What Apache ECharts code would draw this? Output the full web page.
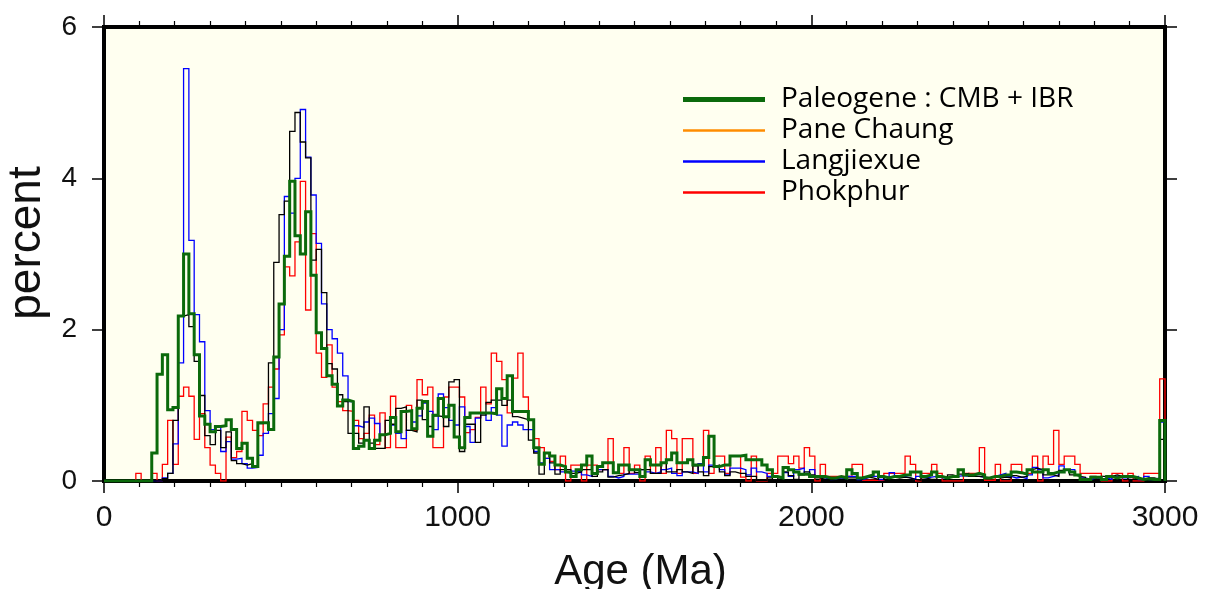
<!DOCTYPE html>
<html>
<head>
<meta charset="utf-8">
<title>Detrital zircon age spectra</title>
<script src="https://cdn.jsdelivr.net/npm/echarts@6/dist/echarts.min.js"></script>
<style>
  html, body { margin: 0; padding: 0; background: #ffffff; }
  #chart { width: 1211px; height: 589px; }
</style>
</head>
<body>
<div id="chart"></div>
<script>
// Histogram bins: 15 Ma wide, from 0 to 3000 Ma (200 bins). Values are percent per bin.
const BIN_WIDTH = 15;
const AGE_MIN = 0;
const AGE_MAX = 3000;
const AGE_TICKS = [0, 1000, 2000, 3000];
const PERCENT_TICKS = [0, 2, 4, 6];

const seriesNames = ['Paleogene : CMB + IBR', 'Pane Chaung', 'Langjiexue', 'Phokphur'];

const paleogene = [
  0, 0, 0, 0, 0, 0, 0, 0, 0, 0.37,
  1.41, 1.67, 0.94, 0.97, 2.18, 3.00, 2.21, 1.67, 0.86, 0.75,
  0.65, 0.72, 0.73, 0.81, 0.68, 0.43, 0.50, 0.30, 0.19, 0.77,
  0.77, 0.68, 1.64, 2.34, 2.97, 3.96, 3.24, 3.00, 3.56, 2.72,
  1.96, 1.75, 1.39, 1.28, 0.99, 1.07, 1.05, 0.43, 0.46, 0.54,
  0.43, 0.54, 0.61, 0.63, 0.84, 0.65, 0.92, 0.93, 0.69, 0.96,
  1.05, 0.59, 0.87, 1.09, 0.85, 1.00, 0.58, 0.44, 0.84, 0.90,
  0.90, 0.90, 0.90, 0.89, 1.22, 1.09, 1.39, 0.92, 0.92, 0.92,
  0.81, 0.44, 0.22, 0.37, 0.33, 0.21, 0.19, 0.12, 0.06, 0.15,
  0.21, 0.33, 0.10, 0.19, 0.24, 0.24, 0.11, 0.21, 0.21, 0.15,
  0.15, 0.06, 0.28, 0.21, 0.21, 0.24, 0.28, 0.37, 0.24, 0.24,
  0.28, 0.21, 0.21, 0.31, 0.59, 0.19, 0.21, 0.21, 0.33, 0.33,
  0.34, 0.28, 0.28, 0.28, 0.21, 0.15, 0.06, 0.04, 0.18, 0.15,
  0.12, 0.09, 0.09, 0.06, 0.06, 0.06, 0.04, 0.04, 0.06, 0.04,
  0.15, 0.10, 0.04, 0.06, 0.08, 0.12, 0.06, 0.04, 0.06, 0.06,
  0.08, 0.08, 0.12, 0.12, 0.06, 0.08, 0.12, 0.06, 0.04, 0.06,
  0.06, 0.15, 0.08, 0.08, 0.10, 0.08, 0.04, 0.06, 0.06, 0.08,
  0.08, 0.12, 0.11, 0.09, 0.15, 0.12, 0.12, 0.15, 0.10, 0.12,
  0.12, 0.15, 0.12, 0.08, 0.02, 0.02, 0.05, 0.05, 0.02, 0.06,
  0.04, 0.06, 0.06, 0.06, 0.04, 0.02, 0.03, 0.02, 0.02, 0.80
];

const paneChaung = [
  0, 0, 0, 0, 0, 0, 0, 0, 0, 0,
  0, 0.03, 0.10, 0.80, 2.18, 2.20, 2.04, 1.58, 1.13, 0.60,
  0.48, 0.67, 0.44, 0.65, 0.27, 0.23, 0.21, 0.23, 0.19, 0.76,
  0.77, 1.56, 2.89, 3.52, 3.70, 4.62, 4.87, 4.48, 4.27, 2.92,
  3.06, 2.49, 1.55, 1.48, 1.14, 1.05, 0.63, 0.63, 0.50, 0.98,
  0.50, 0.43, 0.43, 0.80, 0.75, 0.96, 0.98, 0.67, 0.65, 1.07,
  0.81, 0.72, 0.86, 0.85, 0.72, 1.31, 1.34, 0.39, 0.75, 0.75,
  0.51, 0.87, 1.04, 1.07, 1.07, 1.00, 1.07, 0.85, 0.83, 0.81,
  0.54, 0.37, 0.09, 0.37, 0.24, 0.09, 0.15, 0.15, 0.10, 0.12,
  0.15, 0.15, 0.06, 0.12, 0.15, 0.05, 0.07, 0.08, 0.10, 0.15,
  0.11, 0.15, 0.15, 0.10, 0.10, 0.24, 0.12, 0.12, 0.15, 0.12,
  0.10, 0.20, 0.12, 0.07, 0.19, 0.21, 0.12, 0.07, 0.12, 0.10,
  0.10, 0.06, 0.06, 0.01, 0.01, 0.04, 0.01, 0.04, 0.12, 0.07,
  0.02, 0.08, 0.12, 0.08, 0.04, 0.02, 0.02, 0.01, 0.02, 0.01,
  0.04, 0.04, 0.02, 0.05, 0.04, 0.02, 0.06, 0.02, 0.05, 0.04,
  0.05, 0.04, 0.02, 0.01, 0.04, 0.02, 0.02, 0.06, 0.05, 0.08,
  0.06, 0.09, 0.10, 0.06, 0.06, 0.05, 0.04, 0.06, 0.04, 0.05,
  0.04, 0.07, 0.05, 0.06, 0.15, 0.17, 0.15, 0.08, 0.08, 0.06,
  0.14, 0.15, 0.08, 0.06, 0.05, 0.02, 0.06, 0.02, 0.06, 0.06,
  0.08, 0.06, 0.05, 0.02, 0.04, 0.02, 0.04, 0.04, 0.02, 0.55
];

const langjiexue = [
  0, 0, 0, 0, 0, 0, 0, 0, 0, 0,
  0, 0.04, 0.10, 0.49, 1.56, 5.45, 3.18, 2.20, 1.84, 0.93,
  0.68, 0.72, 0.39, 0.52, 0.29, 0.30, 0.23, 0.17, 0.18, 0.34,
  0.63, 0.89, 1.09, 2.00, 3.76, 3.54, 4.00, 4.91, 4.28, 3.78,
  3.14, 2.34, 2.00, 1.88, 1.69, 1.39, 1.05, 0.73, 0.71, 0.78,
  0.83, 0.76, 0.61, 0.63, 0.74, 0.63, 0.56, 0.67, 0.78, 0.86,
  1.03, 0.92, 0.68, 1.15, 0.97, 0.80, 0.74, 0.98, 0.72, 0.51,
  0.83, 0.89, 0.80, 0.97, 0.87, 0.46, 0.74, 0.78, 0.74, 0.68,
  0.68, 0.39, 0.24, 0.30, 0.15, 0.15, 0.12, 0.10, 0.13, 0.12,
  0.08, 0.06, 0.10, 0.15, 0.15, 0.06, 0.04, 0.06, 0.09, 0.09,
  0.09, 0.15, 0.12, 0.10, 0.12, 0.15, 0.17, 0.10, 0.07, 0.12,
  0.12, 0.10, 0.23, 0.12, 0.21, 0.19, 0.15, 0.08, 0.17, 0.17,
  0.15, 0.08, 0.17, 0.12, 0.10, 0.06, 0.06, 0.04, 0.11, 0.06,
  0.15, 0.17, 0.10, 0.15, 0.06, 0.04, 0.02, 0.02, 0.04, 0.02,
  0.06, 0.06, 0.02, 0.04, 0.06, 0.06, 0.02, 0.05, 0.11, 0.06,
  0.06, 0.04, 0.02, 0.06, 0.04, 0.05, 0.06, 0.04, 0.04, 0.05,
  0.06, 0.07, 0.06, 0.06, 0.06, 0.05, 0.04, 0.06, 0.08, 0.10,
  0.06, 0.04, 0.05, 0.03, 0.08, 0.18, 0.15, 0.04, 0.06, 0.08,
  0.20, 0.15, 0.15, 0.08, 0.04, 0.02, 0.04, 0.02, 0.04, 0.02,
  0.06, 0.04, 0.04, 0.05, 0.06, 0.02, 0.06, 0.02, 0.04, 0.78
];

const phokphur = [
  0, 0, 0, 0, 0, 0, 0.10, 0, 0, 0.10,
  0, 0.22, 0.80, 0.22, 1.12, 1.24, 1.12, 0.55, 0.89, 0.44,
  0.21, 0.10, 0, 0.58, 0.31, 0.39, 0.92, 0.80, 0.67, 0.60,
  1.02, 1.24, 1.48, 1.93, 2.83, 2.71, 3.16, 3.96, 2.26, 3.27,
  1.69, 1.37, 1.80, 1.24, 1.05, 0.93, 0.92, 0.80, 0.56, 0.63,
  0.87, 0.48, 0.90, 0.44, 1.12, 0.44, 0.44, 1.00, 0.67, 1.34,
  1.14, 1.24, 0.44, 0.44, 1.11, 1.24, 1.24, 1.11, 0.64, 0.68,
  0.84, 1.24, 1.02, 1.69, 1.58, 1.34, 0.90, 1.36, 1.69, 1.11,
  0.81, 0.56, 0.44, 0.30, 0.26, 0.15, 0.33, 0, 0.21, 0.21,
  0, 0.21, 0.21, 0.15, 0.15, 0.56, 0.10, 0.10, 0.44, 0.10,
  0.21, 0, 0.33, 0.10, 0.44, 0.10, 0.67, 0.56, 0.10, 0.56,
  0.56, 0.10, 0.23, 0.67, 0.10, 0.33, 0.33, 0.10, 0.33, 0.33,
  0.05, 0, 0.33, 0, 0, 0.10, 0.10, 0.33, 0.33, 0.23,
  0.33, 0.17, 0.44, 0.33, 0, 0.22, 0.06, 0.06, 0.06, 0.06,
  0.06, 0.22, 0.22, 0.01, 0.01, 0.01, 0.01, 0.10, 0.10, 0.10,
  0.10, 0.33, 0.22, 0, 0.10, 0.10, 0.22, 0.10, 0, 0,
  0, 0, 0.10, 0.10, 0.10, 0.44, 0.01, 0.01, 0.22, 0,
  0, 0.22, 0.22, 0.10, 0.10, 0.33, 0, 0.33, 0.22, 0.67,
  0.22, 0.33, 0.33, 0.22, 0.10, 0.10, 0.10, 0.10, 0, 0,
  0.10, 0.10, 0, 0.10, 0, 0, 0.10, 0.10, 0.10, 1.35
];

// Turn per-bin values into [binStart, value] pairs for a stepped outline,
// closing the outline at the upper age limit.
function histogramPoints(values) {
  const pts = values.map((v, i) => [AGE_MIN + i * BIN_WIDTH, v]);
  const last = values[values.length - 1];
  pts.push([AGE_MAX, last]);
  pts.push([AGE_MAX, 0]);
  return pts;
}

const FONT = 'Liberation Sans, Arial, Helvetica, sans-serif';
const FRAME = { color: '#000', width: 4, cap: 'square' };

function xAxisDef(position, withLabels) {
  return {
    type: 'value', position: position, min: AGE_MIN, max: AGE_MAX, interval: 1000,
    axisLine: { show: true, onZero: false, lineStyle: FRAME },
    axisTick: { show: true, inside: false, length: 12, lineStyle: { color: '#000', width: 1.5 } },
    minorTick: { show: true, splitNumber: 10, length: 6, lineStyle: { color: '#000', width: 1.2 } },
    splitLine: { show: false },
    axisLabel: {
      show: withLabels, fontSize: 30, color: '#111', fontFamily: FONT, margin: 22,
      formatter: v => (AGE_TICKS.indexOf(v) >= 0 ? String(v) : '')
    },
    name: withLabels ? 'Age (Ma)' : '',
    nameLocation: 'middle', nameGap: 70,
    nameTextStyle: { fontSize: 42, color: '#111', fontFamily: FONT, padding: [0, 0, 0, 12] }
  };
}

function yAxisDef(position, withLabels) {
  return {
    type: 'value', position: position, min: 0, max: 6, interval: 2,
    axisLine: { show: true, onZero: false, lineStyle: FRAME },
    axisTick: { show: true, inside: false, length: 12, lineStyle: { color: '#000', width: 1.5 } },
    splitLine: { show: false },
    axisLabel: {
      show: withLabels, fontSize: 28, color: '#111', fontFamily: FONT, margin: 27,
      formatter: v => (PERCENT_TICKS.indexOf(v) >= 0 ? String(v) : '')
    },
    name: withLabels ? 'percent' : '',
    nameLocation: 'middle', nameGap: 54,
    nameTextStyle: { fontSize: 46, color: '#111', fontFamily: FONT, padding: [0, 0, 0, 22] }
  };
}

function stepSeries(name, values, color, width, z) {
  return {
    name: name, type: 'line', step: 'end',
    data: histogramPoints(values),
    xAxisIndex: 0, yAxisIndex: 0,
    showSymbol: false, symbol: 'none',
    lineStyle: { color: color, width: width, join: 'miter' },
    itemStyle: { color: color },
    silent: true, z: z
  };
}

// Legend keys: flat bars, thicker for the combined Paleogene record.
const THICK_KEY = 'path://M0,0H82V5H0Z';
const THIN_KEY = 'path://M0,0H82V2.4H0Z';

const chart = echarts.init(document.getElementById('chart'), null, { renderer: 'canvas' });

chart.setOption({
  animation: false,
  backgroundColor: '#ffffff',
  grid: {
    left: 104, right: 46, top: 27, bottom: 108,
    outerBoundsMode: 'none', containLabel: false,
    show: true, backgroundColor: '#FFFFF0', borderWidth: 0
  },
  legend: {
    orient: 'vertical', left: 683, top: 84, padding: 0,
    itemWidth: 82, itemHeight: 14, itemGap: 0,
    textStyle: {
      fontSize: 28, lineHeight: 31, color: '#000',
      fontFamily: 'Open Sans, Noto Sans, sans-serif', padding: [0, 0, 0, 11]
    },
    data: [
      { name: seriesNames[0], icon: THICK_KEY, itemStyle: { color: '#0b6a0b' } },
      { name: seriesNames[1], icon: THIN_KEY, itemStyle: { color: '#ff8c00' } },
      { name: seriesNames[2], icon: THIN_KEY, itemStyle: { color: '#0000ff' } },
      { name: seriesNames[3], icon: THIN_KEY, itemStyle: { color: '#ff0000' } }
    ]
  },
  xAxis: [xAxisDef('bottom', true), xAxisDef('top', false)],
  yAxis: [yAxisDef('left', true), yAxisDef('right', false)],
  series: [
    stepSeries(seriesNames[3], phokphur, '#ff0000', 1.3, 2),
    stepSeries(seriesNames[2], langjiexue, '#0000ff', 1.3, 3),
    stepSeries(seriesNames[1], paneChaung, '#000000', 1.3, 4),
    stepSeries(seriesNames[0], paleogene, '#0b6a0b', 3, 5)
  ]
});
</script>
</body>
</html>
